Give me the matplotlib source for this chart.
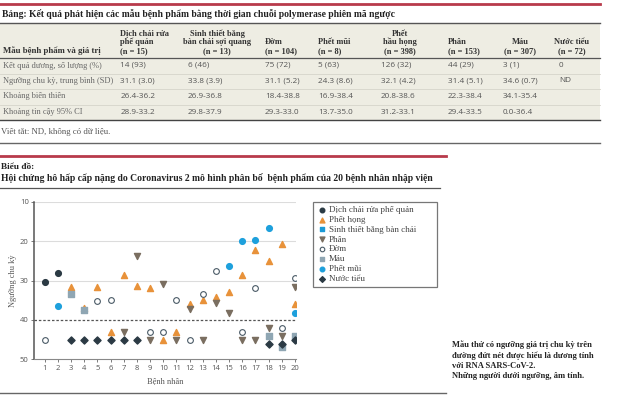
import matplotlib
matplotlib.use("Agg")
import matplotlib.pyplot as plt
from matplotlib.lines import Line2D
from matplotlib.patches import Rectangle
import numpy as np

# --- du lieu bang ---
table_title = "Bảng: Kết quả phát hiện các mẫu bệnh phẩm bằng thời gian chuỗi polymerase phiên mã ngược"
first_header = "Mẫu bệnh phẩm và giá trị"
row_labels = ["Kết quả dương, số lượng (%)", "Ngưỡng chu kỳ, trung bình (SD)",
              "Khoảng biến thiên", "Khoảng tin cậy 95% CI"]
col_headers = [["Dịch chải rửa", "phế quản", "(n = 15)"],
               ["Sinh thiết bằng", "bàn chải sợi quang", "(n = 13)"],
               ["Đờm", "(n = 104)"],
               ["Phết mũi", "(n = 8)"],
               ["Phết", "hầu họng", "(n = 398)"],
               ["Phân", "(n = 153)"],
               ["Máu", "(n = 307)"],
               ["Nước tiểu", "(n = 72)"]]
positive = ["14 (93)", "6 (46)", "75 (72)", "5 (63)", "126 (32)", "44 (29)", "3 (1)", "0"]
ct_mean = ["31.1 (3.0)", "33.8 (3.9)", "31.1 (5.2)", "24.3 (8.6)", "32.1 (4.2)", "31.4 (5.1)", "34.6 (0.7)", "ND"]
ct_range = ["26.4-36.2", "26.9-36.8", "18.4-38.8", "16.9-38.4", "20.8-38.6", "22.3-38.4", "34.1-35.4", ""]
ct_ci = ["28.9-33.2", "29.8-37.9", "29.3-33.0", "13.7-35.0", "31.2-33.1", "29.4-33.5", "0.0-36.4", ""]
footnote = "Viết tắt: ND, không có dữ liệu."

# --- du lieu bieu do ---
chart_title = "Hội chứng hô hấp cấp nặng do Coronavirus 2 mô hình phân bố  bệnh phẩm của 20 bệnh nhân nhập viện"
bal_x = [1, 2]
bal_y = [30.3, 28.0]
throat_x = [3, 4, 5, 6, 7, 8, 9, 10, 11, 12, 13, 14, 15, 16, 17, 18, 19, 20]
throat_y = [31.6, 37.0, 31.7, 43, 28.6, 31.4, 32.0, 45, 43, 35.9, 34.9, 34.3, 32.8, 28.6, 22.3, 25.1, 20.7, 36.0]
brush_x = []
brush_y = []
feces_x = [7, 8, 9, 10, 11, 12, 13, 14, 15, 16, 17, 18, 19, 20]
feces_y = [43, 23.9, 45, 30.8, 45, 37.2, 45, 35.7, 38.2, 45, 45, 42, 44, 31.6]
sputum_x = [1, 5, 6, 9, 10, 11, 12, 13, 14, 16, 17, 19, 20]
sputum_y = [45, 35.2, 34.9, 43, 43, 35.0, 45, 33.5, 27.7, 43, 31.8, 42, 29.4]
blood_x = [3, 4, 18, 19, 20]
blood_y = [33.5, 37.5, 44, 47, 44]
nasal_x = [2, 15, 16, 17, 18, 20]
nasal_y = [36.5, 26.2, 20.1, 19.6, 16.8, 38.3]
urine_x = [3, 4, 5, 6, 7, 8, 18, 19, 20]
urine_y = [45, 45, 45, 45, 45, 45, 46, 46, 45]
threshold = 40
note = ("Mẫu thử có ngưỡng giá trị chu kỳ trên\nđường đứt nét được hiểu là dương tính\n"
        "với RNA SARS-CoV-2.\nNhững người dưới ngưỡng, âm tính.")

W, H = 619, 397
SERIF = ["Liberation Serif", "DejaVu Serif"]
SANS = ["Open Sans", "DejaVu Sans"]
RED = "#b83a4b"


def fx(x):
    return x / W


def fy(y):
    return 1 - y / H


fig = plt.figure(figsize=(W / 100, H / 100), dpi=100)


def hline(y, x0, x1, color, lw):
    fig.add_artist(Line2D([fx(x0), fx(x1)], [fy(y), fy(y)], transform=fig.transFigure,
                          color=color, lw=lw))


# bang
hline(3.5, 0, 600, RED, 2.0)
fig.text(fx(2), fy(14), table_title, family=SERIF, weight="bold", fontsize=6.95,
         color="#222", va="center")
fig.add_artist(Rectangle((0, fy(120)), fx(600), (120 - 23) / H, transform=fig.transFigure,
                         facecolor="#eeede3", edgecolor="none"))
hline(23, 0, 600, "#555", 1.0)
hline(57.5, 0, 600, "#555", 0.9)
for y in [73.5, 89, 104.5]:
    hline(y, 0, 600, "#d6d4ca", 0.6)
hline(120, 0, 600, "#444", 1.0)

fig.text(fx(3), fy(51), first_header, family=SERIF, weight="bold",
         fontsize=6.3, color="#333", va="center")

head_pos = [("left", 120), ("center", 217), ("left", 265), ("left", 318),
            ("center", 400), ("left", 448), ("center", 520), ("center", 572)]
val_x = [120.5, 187.5, 265, 318, 381, 448, 503, 559]
for (ha, x), lines in zip(head_pos, col_headers):
    ys = [33.5, 42, 51] if len(lines) == 3 else [42, 51]
    for y, t in zip(ys, lines):
        fig.text(fx(x), fy(y), t, family=SERIF, weight="bold", fontsize=6,
                 color="#333", ha=ha, va="center")

row_y = [65.5, 81, 96.5, 112]
for y, lab, vals in zip(row_y, row_labels, [positive, ct_mean, ct_range, ct_ci]):
    fig.text(fx(3), fy(y), lab, family=SERIF, fontsize=6, color="#666", va="center")
    for x, v in zip(val_x, vals):
        fig.text(fx(x), fy(y), v, family=SANS, fontsize=5.9, color="#555", va="center")

fig.text(fx(1), fy(132.3), footnote, family=SERIF, fontsize=6.3, color="#555", va="center")
hline(143.3, 0, 600, "#666", 1.0)

# bieu do
hline(155.7, 0, 446, RED, 2.0)
fig.text(fx(1), fy(166.7), "Biểu đồ:", family=SERIF, weight="bold", fontsize=6.7,
         color="#222", va="center")
fig.text(fx(1), fy(178.3), chart_title, family=SERIF, weight="bold", fontsize=6.95,
         color="#222", va="center")
hline(188.3, 0, 440, "#555", 0.9)
hline(392.5, 0, 446, "#666", 1.0)

ax = fig.add_axes([fx(34.3), fy(359.3), fx(296.3) - fx(34.3), (359.3 - 201.7) / H])
ax.set_xlim(0.2, 20.1)
ax.set_ylim(50, 10)
for y in [10, 20, 30]:
    ax.axhline(y, color="#dcdcdc", lw=0.8, zorder=0)
ax.axhline(threshold, color="#555", lw=0.9, ls=(0, (2, 1.5)), zorder=1)

ms = 17
ax.scatter(bal_x, bal_y, s=ms, marker="o", color="#2b3a44", label="Dịch chải rửa phế quản", zorder=3)
ax.scatter(throat_x, throat_y, s=ms + 2, marker="^", color="#e8923a", label="Phết họng", zorder=3)
ax.scatter(brush_x, brush_y, s=ms - 2, marker="s", color="#1c9ad6", label="Sinh thiết bằng bàn chải", zorder=3)
ax.scatter(feces_x, feces_y, s=ms + 2, marker="v", color="#7a6e60", label="Phân", zorder=3)
ax.scatter(sputum_x, sputum_y, s=ms, marker="o", facecolor="white", edgecolor="#4a5a66",
           linewidth=0.8, label="Đờm", zorder=3)
ax.scatter(blood_x, blood_y, s=ms - 2, marker="s", color="#8fa6b3", label="Máu", zorder=3)
ax.scatter(nasal_x, nasal_y, s=ms, marker="o", color="#1ea0dc", label="Phết mũi", zorder=3)
ax.scatter(urine_x, urine_y, s=ms - 4, marker="D", color="#2b3a44", label="Nước tiểu", zorder=4)

ax.set_xticks(np.arange(1, 21))
ax.set_yticks([10, 20, 30, 40, 50])
ax.tick_params(axis="both", labelsize=5.5, labelcolor="#555", color="#666", length=2, width=0.6, pad=2)
for lab in ax.get_xticklabels() + ax.get_yticklabels():
    lab.set_family(SANS)
for s in ["top", "right"]:
    ax.spines[s].set_visible(False)
ax.spines["left"].set_color("#555")
ax.spines["left"].set_linewidth(1.1)
ax.spines["bottom"].set_color("#888")
ax.spines["bottom"].set_linewidth(0.8)
ax.set_xlabel("Bệnh nhân", family=SERIF, fontsize=6, color="#555", labelpad=3.5)
ax.set_ylabel("Ngưỡng chu kỳ", family=SERIF, fontsize=6, color="#555", labelpad=2)

leg = ax.legend(loc="upper left", mode="expand",
                bbox_to_anchor=(fx(313.3), fy(286.7), fx(437) - fx(313.3), (286.7 - 201.7) / H),
                bbox_transform=fig.transFigure, prop={"family": SERIF, "size": 6.5},
                frameon=True, fancybox=False, edgecolor="#555", borderpad=0.45,
                labelspacing=0.17, handletextpad=0.3, handlelength=1.0, borderaxespad=0,
                markerscale=0.8)
leg.get_frame().set_linewidth(0.9)
for t in leg.get_texts():
    t.set_color("#444")

fig.text(fx(452), fy(340.5), note, family=SERIF, weight="bold", fontsize=6.1,
         color="#222", va="top", linespacing=1.35)

fig.savefig("out.png", dpi=100)
